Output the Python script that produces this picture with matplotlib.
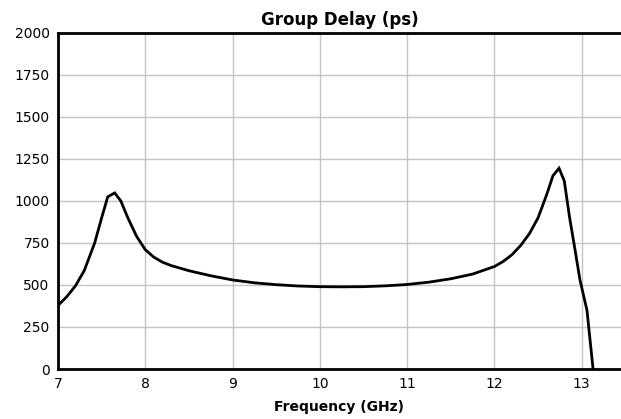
import matplotlib
matplotlib.use("Agg")
import matplotlib.pyplot as plt

freq_ghz = [7.0, 7.1, 7.2, 7.3, 7.42, 7.5, 7.57, 7.65, 7.72, 7.8, 7.9, 8.0, 8.1, 8.2, 8.3,
            8.5, 8.75, 9.0, 9.25, 9.5, 9.75, 10.0, 10.25, 10.5, 10.75, 11.0, 11.25, 11.5,
            11.75, 12.0, 12.1, 12.2, 12.3, 12.4, 12.5, 12.6, 12.67, 12.74, 12.8, 12.86,
            12.92, 12.98, 13.06, 13.13]
delay_ps = [378, 430, 495, 585, 750, 900, 1025, 1048, 1000, 900, 790, 710, 665, 635, 615,
            585, 555, 530, 513, 502, 494, 490, 489, 490, 495, 503, 517, 537,
            565, 610, 640, 680, 735, 805, 900, 1040, 1150, 1195, 1120, 905,
            720, 530, 350, 0]
x_ticks = [7, 8, 9, 10, 11, 12, 13]
y_ticks = [0, 250, 500, 750, 1000, 1250, 1500, 1750, 2000]

fig = plt.figure(figsize=(6.21, 4.19), dpi=100)
ax = fig.add_axes([58/621, 1-369/419, 1-58/621, (369-33)/419])
ax.plot(freq_ghz, delay_ps, color="black", lw=2.0, solid_joinstyle="miter")
ax.set_xlim(7, 13.45)
ax.set_ylim(0, 2000)
ax.set_xticks(x_ticks)
ax.set_yticks(y_ticks)
ax.grid(True, color="#c4c4c4", lw=1.0)
ax.set_axisbelow(True)
for s in ["left", "top", "bottom"]:
    ax.spines[s].set_linewidth(2.0)
ax.spines["right"].set_visible(False)
ax.tick_params(length=0, labelsize=10, pad=6)
ax.set_title("Group Delay (ps)", fontsize=12, fontweight="bold", pad=6)
ax.set_xlabel("Frequency (GHz)", fontsize=10, fontweight="bold", labelpad=6)
fig.savefig("out.png", dpi=100)
